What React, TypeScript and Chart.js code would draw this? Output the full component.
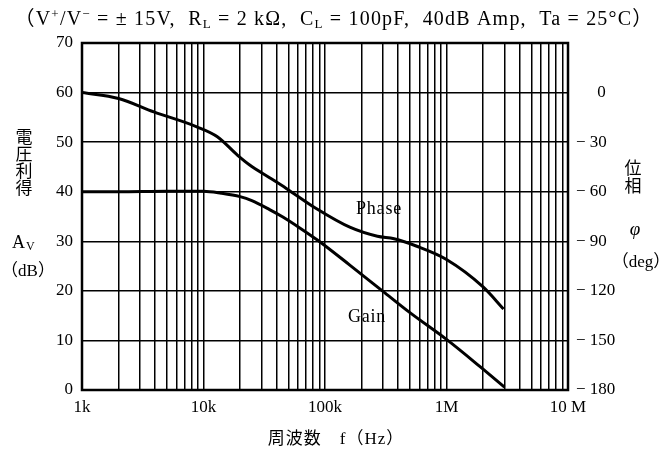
import React, { useEffect, useRef } from "react";
import { Chart, registerables } from "chart.js";

Chart.register(...registerables);

// ---- data ----
const gainFreq = [1e3, 2e3, 5e3, 1e4, 1.4e4, 2e4, 2.5e4, 3.5e4, 4.5e4, 6.2e4, 8.6e4, 1.6e5, 3e5, 5e5, 1e6, 2e6, 3e6];
const gainDb = [40, 40, 40.1, 40.1, 39.7, 39, 38.2, 36.4, 34.9, 32.7, 30.3, 25.2, 19.9, 15.6, 10.2, 4.2, 0.6];

const phaseFreq = [1e3, 2e3, 3.9e3, 8.8e3, 1.3e4, 1.9e4, 2.4e4, 3.5e4, 4.8e4, 8.6e4, 1.6e5, 2.7e5, 3.7e5, 5.7e5, 1e6, 2e6, 2.95e6];
const phaseDeg = [0, -3.6, -11.7, -20.7, -26.7, -37.8, -43.8, -51.5, -58, -70.5, -81.5, -87, -88.5, -93, -101, -117.6, -131];

const decadeValues = [1e3, 1e4, 1e5, 1e6, 1e7];
const decadeLabels = ["1k", "10k", "100k", "1M", "10 M"];
const gridMultiples = [1, 2, 3, 4, 5, 6, 7, 8, 9];

const dbTicks = [0, 10, 20, 30, 40, 50, 60, 70];
const phaseTicks = [-180, -150, -120, -90, -60, -30, 0];

const SERIF = '"Liberation Serif", "DejaVu Serif", "Noto Sans CJK JP", serif';
const CJK = '"Liberation Serif", "Noto Sans CJK JP", serif';

const xGridValues: number[] = [];
decadeValues.slice(0, -1).forEach((d) => gridMultiples.forEach((m) => xGridValues.push(d * m)));
xGridValues.push(decadeValues[decadeValues.length - 1]);

const textPlugin = {
  id: "texts",
  beforeDatasetsDraw(chart: any) {
    const { ctx, chartArea } = chart;
    ctx.save();
    ctx.strokeStyle = "#000";
    ctx.lineWidth = 2.5;
    ctx.strokeRect(chartArea.left, chartArea.top, chartArea.right - chartArea.left, chartArea.bottom - chartArea.top);
    ctx.restore();
  },
  afterDraw(chart: any) {
    const ctx = chart.ctx as any;
    ctx.save();
    ctx.fillStyle = "#000";
    ctx.textBaseline = "alphabetic";

    // title with sub/superscripts
    const big = `20px ${SERIF}`;
    const small = `13px ${SERIF}`;
    const segs: { t: string; k?: "sup" | "sub" }[] = [
      { t: "（V" },
      { t: "+", k: "sup" },
      { t: "/V" },
      { t: "−", k: "sup" },
      { t: " = ± 15V,  R" },
      { t: "L", k: "sub" },
      { t: " = 2 kΩ,  C" },
      { t: "L", k: "sub" },
      { t: " = 100pF,  40dB Amp,  Ta = 25°C）" },
    ];
    ctx.letterSpacing = "1.2px";
    let total = 0;
    segs.forEach((s) => {
      ctx.font = s.k ? small : big;
      total += ctx.measureText(s.t).width;
    });
    let x = 334 - total / 2;
    const base = 25;
    ctx.textAlign = "left";
    segs.forEach((s) => {
      ctx.font = s.k ? small : big;
      const dy = s.k === "sup" ? -7 : s.k === "sub" ? 3 : 0;
      ctx.fillText(s.t, x, base + dy);
      x += ctx.measureText(s.t).width;
    });
    ctx.letterSpacing = "0px";

    // left axis title
    ctx.textAlign = "center";
    ctx.textBaseline = "middle";
    ctx.font = `17px ${CJK}`;
    ["電", "圧", "利", "得"].forEach((c, i) => ctx.fillText(c, 24, 139 + i * 17));
    ctx.font = `18px ${SERIF}`;
    ctx.textAlign = "left";
    ctx.fillText("A", 12, 243);
    ctx.font = `12px ${SERIF}`;
    ctx.fillText("V", 26, 247);
    ctx.textAlign = "center";
    ctx.font = `17px ${CJK}`;
    ctx.fillText("（dB）", 28, 272);

    // right axis title
    ctx.font = `17px ${CJK}`;
    ctx.fillText("位", 633, 170);
    ctx.fillText("相", 633, 188);
    ctx.font = `italic 19px ${SERIF}`;
    ctx.fillText("φ", 635, 230);
    ctx.font = `17px ${CJK}`;
    ctx.fillText("（deg）", 641, 263);

    // x axis title
    ctx.font = `17px ${CJK}`;
    ctx.letterSpacing = "1px";
    ctx.fillText("周波数　f（Hz）", 336, 440);
    ctx.letterSpacing = "0px";

    // curve labels
    ctx.font = `18px ${SERIF}`;
    ctx.letterSpacing = "0.8px";
    ctx.fillText("Phase", 379, 209);
    ctx.fillText("Gain", 367, 317);
    ctx.letterSpacing = "0px";
    ctx.restore();
  },
};

export default function App() {
  const ref = useRef<HTMLCanvasElement | null>(null);

  useEffect(() => {
    if (!ref.current) return;
    const tickFont = { family: SERIF, size: 17 };
    const chart = new Chart(ref.current, {
      type: "line",
      data: {
        datasets: [
          {
            label: "Gain",
            data: gainFreq.map((f, i) => ({ x: f, y: gainDb[i] })),
            yAxisID: "y",
            borderColor: "#000",
            borderWidth: 3,
            pointRadius: 0,
            cubicInterpolationMode: "monotone",
            fill: false,
          },
          {
            label: "Phase",
            data: phaseFreq.map((f, i) => ({ x: f, y: phaseDeg[i] })),
            yAxisID: "y2",
            borderColor: "#000",
            borderWidth: 3,
            pointRadius: 0,
            cubicInterpolationMode: "monotone",
            fill: false,
          },
        ],
      },
      options: {
        animation: false,
        responsive: false,
        maintainAspectRatio: false,
        layout: { padding: { top: 43, left: 0, right: 0, bottom: 0 } },
        plugins: { legend: { display: false }, tooltip: { enabled: false }, title: { display: false } },
        scales: {
          x: {
            type: "logarithmic",
            min: 1e3,
            max: 1e7,
            afterBuildTicks: (s: any) => {
              s.ticks = xGridValues.map((v) => ({ value: v }));
            },
            afterFit: (s: any) => {
              s.height = 65;
            },
            ticks: {
              autoSkip: false,
              maxRotation: 0,
              minRotation: 0,
              padding: 7,
              color: "#000",
              font: tickFont,
              callback: (v: any) => {
                const i = decadeValues.findIndex((d) => Math.abs(d - Number(v)) < 1e-6 * d);
                return i >= 0 ? decadeLabels[i] : "";
              },
            },
            grid: { color: "#000", lineWidth: 1.5, drawTicks: false },
            border: { display: false },
          },
          y: {
            position: "left",
            min: 0,
            max: 70,
            afterBuildTicks: (s: any) => {
              s.ticks = dbTicks.map((v) => ({ value: v }));
            },
            afterFit: (s: any) => {
              s.width = 82;
            },
            ticks: { padding: 9, color: "#000", font: tickFont },
            grid: { color: "#000", lineWidth: 1.5, drawTicks: false },
            border: { display: false },
          },
          y2: {
            position: "right",
            min: -180,
            max: 30,
            afterBuildTicks: (s: any) => {
              s.ticks = phaseTicks.map((v) => ({ value: v }));
            },
            afterFit: (s: any) => {
              s.width = 99;
            },
            ticks: {
              padding: 8,
              color: "#000",
              font: tickFont,
              callback: (v: any) => (Number(v) === 0 ? "     0" : "− " + Math.abs(Number(v))),
            },
            grid: { display: false, drawTicks: false },
            border: { display: false },
          },
        },
      },
      plugins: [textPlugin],
    } as any);
    return () => chart.destroy();
  }, []);

  return (
    <div style={{ position: "fixed", left: 0, top: 0, width: 667, height: 455, background: "#fff" }}>
      <canvas ref={ref} width={667} height={455} style={{ width: 667, height: 455, display: "block" }} />
    </div>
  );
}
